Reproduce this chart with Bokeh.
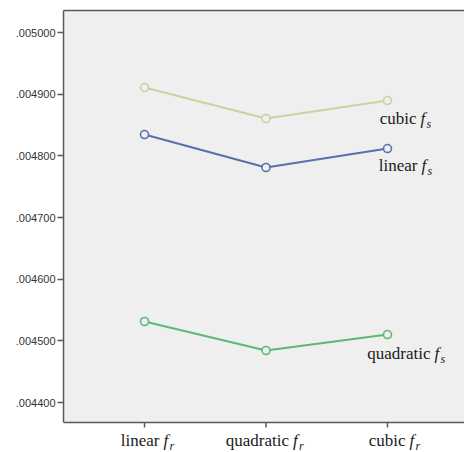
from bokeh.plotting import figure
from bokeh.models import Range1d, FixedTicker, LinearAxis, Span, BoxAnnotation
from bokeh.embed import file_html
from bokeh.resources import INLINE
from bokeh.core.properties import value

# ---- data ----
x_words = ["linear", "quadratic", "cubic"]
x_sub = "r"
x_pos = [0, 1, 2]
series_names = ["cubic", "linear", "quadratic"]
series_sub = "s"
cubic_vals = [0.0049108, 0.0048606, 0.0048897]
linear_vals = [0.0048346, 0.0047811, 0.0048119]
quadratic_vals = [0.0045314, 0.0044844, 0.0045103]
y_ticks = [0.0044, 0.0045, 0.0046, 0.0047, 0.0048, 0.0049, 0.0050]
y_tick_labels = [".004400", ".004500", ".004600", ".004700", ".004800", ".004900", ".005000"]

# ---- style / layout ----
BG = "#efefef"
AX = "#5a5a5a"
TXT = "#1a1a1a"
colors = {"cubic": "#cfcf9f", "linear": "#5670b0", "quadratic": "#5cb872"}
serif = "Liberation Serif"
Y_HI = 0.0050357      # top of panel
Y_LO = 0.0043676      # bottom of panel
Y_EXT = 0.0043190     # extended range so category labels fit in the frame
TICK = 0.0000081      # ~5 px tick length in data units

p = figure(width=464, height=452, output_backend="svg", toolbar_location=None,
           x_range=Range1d(-0.667, 2.634), y_range=Range1d(Y_EXT, Y_HI),
           x_axis_location=None,
           min_border_left=63, min_border_right=0, min_border_top=10, min_border_bottom=0,
           background_fill_color="white", border_fill_color="white", outline_line_color=None)
p.grid.visible = False

# grey panel
p.add_layout(BoxAnnotation(bottom=Y_LO, top=Y_HI, fill_color=BG, fill_alpha=1.0,
                           line_color=None, level="underlay"))

# y axis
ya = p.yaxis[0]
ya.bounds = (Y_LO, Y_HI)
ya.ticker = FixedTicker(ticks=y_ticks)
ya.major_label_overrides = {t: l for t, l in zip(y_ticks, y_tick_labels)}
ya.major_tick_out = 6
ya.major_tick_in = 0
ya.minor_tick_line_color = None
ya.axis_line_color = AX
ya.axis_line_width = 1.5
ya.major_tick_line_color = AX
ya.major_tick_line_width = 1.5
ya.major_label_text_font = "Liberation Sans"
ya.major_label_text_font_size = "11px"
ya.major_label_text_color = "#333333"
ya.major_label_standoff = 2

# top frame line
top = LinearAxis(ticker=FixedTicker(ticks=[]), axis_line_color=AX, axis_line_width=1.5,
                 major_tick_line_color=None, minor_tick_line_color=None,
                 major_label_text_font_size="0px")
p.add_layout(top, "above")

# bottom frame line and category ticks
p.add_layout(Span(location=Y_LO, dimension="width", line_color=AX, line_width=1.5))
p.segment(x0=x_pos, y0=[Y_LO] * len(x_pos), x1=x_pos, y1=[Y_LO - TICK] * len(x_pos),
          line_color=AX, line_width=1.5)

# series
for name, vals in [("cubic", cubic_vals), ("linear", linear_vals), ("quadratic", quadratic_vals)]:
    c = colors[name]
    p.line(x_pos, vals, line_color=c, line_width=2)
    p.scatter(x_pos, vals, size=8, marker="circle", line_color=c, line_width=1.6, fill_color=BG)


def styled_label(xv, yv, word, sub, dx, dy):
    p.text([xv], [yv], text=[word], x_offset=dx, y_offset=dy, text_align="right",
           text_baseline="middle", text_font=value(serif), text_font_size="17px", text_color=TXT)
    p.text([xv], [yv], text=["f"], x_offset=dx + 4, y_offset=dy, text_align="left",
           text_baseline="middle", text_font=value(serif), text_font_style="italic",
           text_font_size="17px", text_color=TXT)
    p.text([xv], [yv], text=[sub], x_offset=dx + 10, y_offset=dy + 5, text_align="left",
           text_baseline="middle", text_font=value(serif), text_font_style="italic",
           text_font_size="12px", text_color=TXT)


# series end labels
lab_dx = {"cubic": 29, "linear": 30, "quadratic": 43}
lab_dy = {"cubic": 18, "linear": 17, "quadratic": 19}
last_vals = {"cubic": cubic_vals[-1], "linear": linear_vals[-1], "quadratic": quadratic_vals[-1]}
for name in series_names:
    styled_label(x_pos[-1], last_vals[name], name, series_sub, lab_dx[name], lab_dy[name])

# category labels under the panel
x_dx = [15, 23, 18]
for xv, word, dx in zip(x_pos, x_words, x_dx):
    styled_label(xv, Y_LO, word, x_sub, dx, 18)

open("out.html", "w").write(file_html(p, INLINE))
